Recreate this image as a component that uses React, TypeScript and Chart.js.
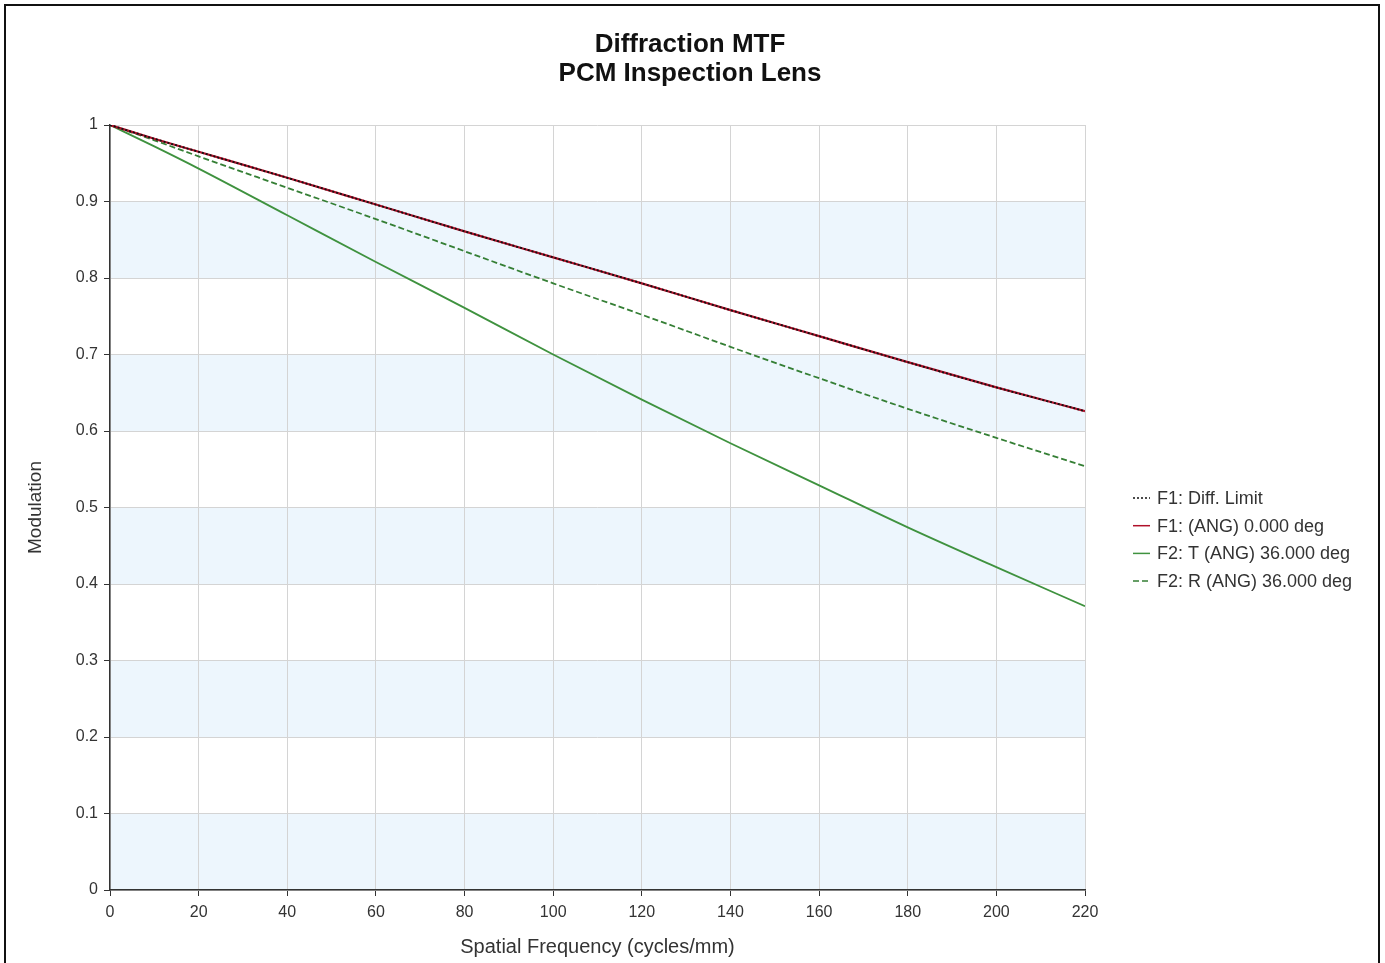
import React, { useEffect, useRef } from "react";
import { Chart, registerables } from "chart.js";
Chart.register(...registerables);

const freqs = [0, 10, 20, 40, 60, 80, 100, 120, 140, 160, 180, 200, 220];
const diffLimit = [1, 0.982, 0.965, 0.931, 0.896, 0.861, 0.827, 0.793, 0.758, 0.724, 0.69, 0.657, 0.626];
const f1Ang0 = [1, 0.982, 0.965, 0.931, 0.896, 0.861, 0.827, 0.793, 0.758, 0.724, 0.69, 0.657, 0.626];
const f2Tang = [1, 0.972, 0.943, 0.882, 0.821, 0.761, 0.7, 0.641, 0.584, 0.529, 0.474, 0.422, 0.371];
const f2Rad = [1, 0.98, 0.959, 0.918, 0.877, 0.835, 0.793, 0.752, 0.71, 0.669, 0.629, 0.591, 0.554];

const titleLines = ["Diffraction MTF", "PCM Inspection Lens"];
const seriesNames = ["F1: Diff. Limit", "F1: (ANG) 0.000 deg", "F2: T (ANG) 36.000 deg", "F2: R (ANG) 36.000 deg"];
const seriesColors = ["#111111", "#b0102a", "#3f923f", "#357f35"];
const seriesDashes: number[][] = [[2, 2], [], [], [6, 3]];
const xAxisTitle = "Spatial Frequency (cycles/mm)";
const yAxisTitle = "Modulation";
const bandRanges = [[0, 0.1], [0.2, 0.3], [0.4, 0.5], [0.6, 0.7], [0.8, 0.9]];

const FONT = "'Liberation Sans', Arial, sans-serif";

const toPts = (ys: number[]) => freqs.map((x, i) => ({ x, y: ys[i] }));

const bandsPlugin = {
  id: "bands",
  beforeDraw(chart: any) {
    const { ctx, chartArea, scales } = chart;
    ctx.save();
    ctx.fillStyle = "#ffffff";
    ctx.fillRect(0, 0, chart.width, chart.height);
    ctx.fillStyle = "rgb(237,246,253)";
    for (const [a, b] of bandRanges) {
      const y1 = scales.y.getPixelForValue(b);
      const y2 = scales.y.getPixelForValue(a);
      ctx.fillRect(chartArea.left, y1, chartArea.right - chartArea.left, y2 - y1);
    }
    ctx.restore();
  },
};

const textPlugin = {
  id: "texts",
  afterDraw(chart: any) {
    const { ctx, chartArea } = chart;
    ctx.save();
    ctx.fillStyle = "#111111";
    ctx.font = `bold 26px ${FONT}`;
    ctx.textAlign = "center";
    ctx.textBaseline = "middle";
    titleLines.forEach((t, i) => ctx.fillText(t, 690, 45 + i * 29));
    const x0 = chartArea.right + 48;
    const y0 = 498;
    ctx.font = `18px ${FONT}`;
    ctx.textAlign = "left";
    seriesNames.forEach((name, i) => {
      const y = y0 + i * 27.7;
      ctx.strokeStyle = seriesColors[i];
      ctx.lineWidth = 1.5;
      ctx.setLineDash(seriesDashes[i]);
      ctx.beginPath();
      ctx.moveTo(x0, y);
      ctx.lineTo(x0 + 17, y);
      ctx.stroke();
      ctx.setLineDash([]);
      ctx.fillStyle = "#333333";
      ctx.fillText(name, x0 + 24, y + 1);
    });
    ctx.restore();
  },
};

export default function App() {
  const ref = useRef<HTMLCanvasElement | null>(null);
  useEffect(() => {
    if (!ref.current) return;
    const datasets = [diffLimit, f1Ang0, f2Tang, f2Rad].map((ys, i) => ({
      label: seriesNames[i],
      data: toPts(ys),
      borderColor: seriesColors[i],
      borderWidth: i === 1 ? 2.2 : 1.8,
      borderDash: seriesDashes[i],
      pointRadius: 0,
      fill: false,
      cubicInterpolationMode: "monotone" as const,
    }));
    const chart = new Chart(ref.current, {
      type: "line",
      data: { datasets },
      options: {
        animation: false,
        responsive: false,
        devicePixelRatio: 1,
        layout: { padding: { left: 0, right: 300, top: 125, bottom: 0 } },
        plugins: { legend: { display: false }, tooltip: { enabled: false }, title: { display: false } },
        scales: {
          x: {
            type: "linear",
            min: 0,
            max: 220,
            afterFit: (s: any) => { s.height = 73; },
            ticks: { stepSize: 20, padding: 7, color: "#333333", font: { family: FONT, size: 16 } },
            grid: { color: "#d4d4d4", lineWidth: 1, tickLength: 6, tickColor: "#333333" },
            border: { display: true, color: "#333333", width: 1.5 },
            title: { display: true, text: xAxisTitle, color: "#333333", font: { family: FONT, size: 20 }, padding: { top: 0, bottom: 4 } },
          },
          y: {
            type: "linear",
            min: 0,
            max: 1,
            afterFit: (s: any) => { s.width = 110; },
            ticks: {
              stepSize: 0.1,
              padding: 6,
              color: "#333333",
              font: { family: FONT, size: 16 },
              callback: (v: any) => String(Math.round(Number(v) * 10) / 10),
            },
            grid: { color: "#d4d4d4", lineWidth: 1, tickLength: 6, tickColor: "#333333" },
            border: { display: true, color: "#333333", width: 1.5 },
            title: { display: true, text: yAxisTitle, color: "#333333", font: { family: FONT, size: 19 }, padding: { top: 24, bottom: 0 } },
          },
        },
      },
      plugins: [bandsPlugin, textPlugin],
    });
    return () => chart.destroy();
  }, []);
  return (
    <div style={{ position: "absolute", left: 0, top: 0, width: 1385, height: 963, overflow: "hidden", background: "#fff" }}>
      <canvas ref={ref} width={1385} height={963} style={{ position: "absolute", left: 0, top: 0 }} />
      <div style={{ position: "absolute", left: 4, top: 4, width: 1372, height: 980, border: "2px solid #111", pointerEvents: "none" }} />
    </div>
  );
}
